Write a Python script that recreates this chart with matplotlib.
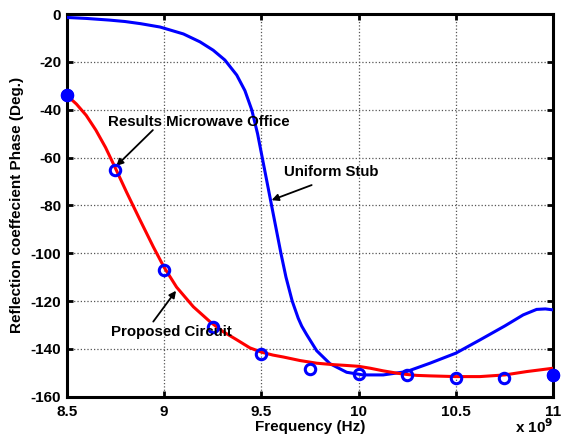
import matplotlib.pyplot as plt
from matplotlib.ticker import FormatStrFormatter, FixedLocator

# ---- data (frequency in GHz, phase in degrees) ----
freq_stub = [8.5, 8.6, 8.72, 8.8, 8.88, 8.98, 9.1, 9.185, 9.253, 9.313, 9.374,
             9.416, 9.451, 9.481, 9.505, 9.529, 9.553, 9.577, 9.601, 9.627, 9.659,
             9.69, 9.708, 9.733, 9.785, 9.853, 9.939, 10.024, 10.127, 10.247,
             10.367, 10.5, 10.623, 10.752, 10.846, 10.915, 10.96, 11.0]
phase_stub = [-1.4, -1.8, -2.5, -3.1, -4.0, -5.4, -8.3, -11.6, -15.1, -19.2, -25.5,
              -32.0, -40.0, -50.0, -60.0, -70.0, -80.0, -90.0, -100.0, -110.0, -120.0,
              -127.2, -130.5, -134.0, -140.8, -146.2, -149.8, -150.9, -150.9, -149.5,
              -146.0, -141.8, -136.3, -130.4, -125.8, -123.5, -123.3, -123.7]

freq_prop = [8.5, 8.55, 8.6, 8.65, 8.7, 8.748, 8.808, 8.877, 8.945, 9.0, 9.065,
             9.151, 9.236, 9.3, 9.37, 9.442, 9.502, 9.56, 9.613, 9.7, 9.785, 9.87,
             9.93, 10.0, 10.06, 10.127, 10.2, 10.247, 10.3, 10.367, 10.5, 10.623,
             10.752, 10.864, 11.0]
phase_prop = [-33.9, -37.6, -42.3, -48.5, -55.8, -64.0, -74.5, -86.1, -97.3, -105.8,
              -114.2, -122.4, -128.6, -132.6, -136.0, -139.6, -141.4, -142.6, -143.4,
              -144.9, -146.0, -146.6, -146.9, -147.3, -148.1, -149.2, -150.2, -150.7,
              -151.1, -151.3, -151.6, -151.6, -150.9, -149.5, -148.1]

freq_mwo = [8.5, 8.75, 9.0, 9.25, 9.5, 9.75, 10.0, 10.25, 10.5, 10.75, 11.0]
phase_mwo = [-33.8, -65, -107, -131, -142, -148.4, -150.5, -151, -152, -152, -151]

xticks = [8.5, 9, 9.5, 10, 10.5, 11]
yticks = [0, -20, -40, -60, -80, -100, -120, -140, -160]

plt.rcParams['font.family'] = ['Liberation Sans', 'DejaVu Sans']
plt.rcParams['font.weight'] = 'bold'

fig = plt.figure(figsize=(5.65, 4.41), dpi=100)
ax = fig.add_axes([0.118, 0.1005, 0.861, 0.8675])

ax.plot(freq_stub, phase_stub, color='#0000ff', lw=2.2, zorder=3,
        solid_joinstyle='round')
ax.plot(freq_prop, phase_prop, color='#ff0000', lw=2.2, zorder=3,
        solid_joinstyle='round')
ax.plot(freq_mwo, phase_mwo, ls='none', marker='o', ms=7.5, mew=2.2,
        mec='#0000ff', mfc='none', zorder=4, clip_on=False)
ends = [0, -1]
ax.plot([freq_mwo[i] for i in ends], [phase_mwo[i] for i in ends], ls='none',
        marker='o', ms=8.5, mec='#0000ff', mfc='#0000ff', zorder=4, clip_on=False)

ax.set_xlim(8.5, 11)
ax.set_ylim(-160, 0)
ax.xaxis.set_major_locator(FixedLocator(xticks))
ax.yaxis.set_major_locator(FixedLocator(yticks))
ax.xaxis.set_major_formatter(FormatStrFormatter('%g'))
ax.yaxis.set_major_formatter(FormatStrFormatter('%g'))
ax.grid(True, ls=':', color='#555555', lw=0.9)
ax.tick_params(direction='in', top=True, right=True, length=4, width=2,
               labelsize=11)
ax.tick_params(axis='x', pad=6)
ax.tick_params(axis='y', pad=4)
for sp in ax.spines.values():
    sp.set_linewidth(2.2)

ax.set_xlabel('Frequency (Hz)', fontsize=11, fontweight='bold', labelpad=1)
ax.set_ylabel('Reflection coeffecient Phase (Deg.)', fontsize=11,
              fontweight='bold', labelpad=5)
fig.text(0.979, 0.012, r'x 10$^{9}$', ha='right', va='bottom',
         fontsize=11, fontweight='bold')

# annotations
arrow = dict(arrowstyle='-|>', color='black', lw=1.3, mutation_scale=10,
             shrinkA=0, shrinkB=0)
ax.text(9.177, -45.2, 'Results Microwave Office', ha='center', va='center',
        fontsize=10.8, fontweight='bold', zorder=6)
ax.annotate('', xy=(8.755, -63.5), xytext=(8.943, -48.5), arrowprops=arrow)
ax.text(9.86, -66, 'Uniform Stub', ha='center', va='center',
        fontsize=10.8, fontweight='bold', zorder=6)
ax.annotate('', xy=(9.553, -77.8), xytext=(9.759, -71.5), arrowprops=arrow)
ax.text(9.036, -132.8, 'Proposed Circuit', ha='center', va='center',
        fontsize=10.8, fontweight='bold', zorder=6)
ax.annotate('', xy=(9.062, -115.7), xytext=(8.945, -128.6), arrowprops=arrow)

fig.savefig('out.png', dpi=100)
